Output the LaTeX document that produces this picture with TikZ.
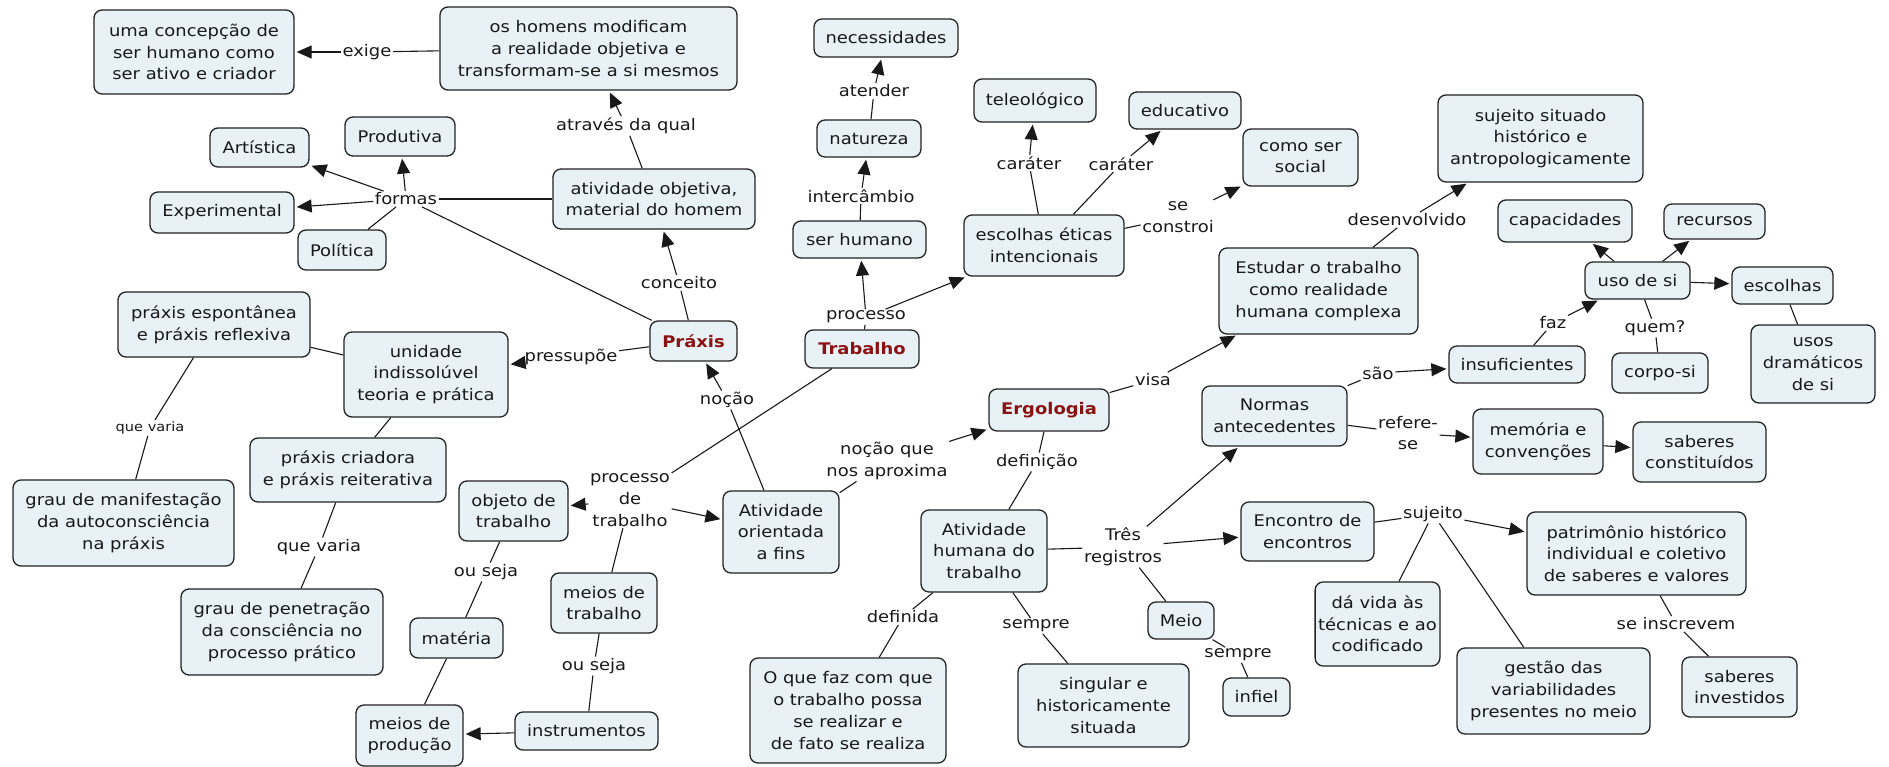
\documentclass[tikz,border=0pt]{standalone}
\usepackage{fontspec}
\setmainfont{DejaVu Sans}[FakeStretch=1.12]
\usetikzlibrary{arrows.meta}
\definecolor{boxfill}{RGB}{232,241,245}
\definecolor{boxline}{RGB}{35,35,35}
\definecolor{mainred}{RGB}{139,18,18}
\definecolor{txt}{RGB}{25,25,25}
\begin{document}
\begin{tikzpicture}[x=1pt,y=-1pt,
 cn/.style={draw=boxline, fill=boxfill, rounded corners=8pt, line width=1.3pt, align=center, inner sep=3pt, font=\fontsize{16}{21.7}\selectfont, text=txt},
 mainc/.style={cn, font=\fontsize{16}{21.7}\selectfont\bfseries, text=mainred},
 lb/.style={align=center, inner sep=1.5pt, font=\fontsize{16}{21.7}\selectfont, text=txt},
 lbs/.style={lb, font=\fontsize{13}{17}\selectfont},
 ln/.style={line width=1.1pt, draw=black!90},
 ar/.style={ln, -{Triangle[length=15pt,width=13pt]}, shorten >=2pt},
]
\fill[white] (0,0) rectangle (1889,767);
\useasboundingbox (0,0) rectangle (1889,767);

% concepts
\node[cn, minimum width=200, minimum height=84] (conc) at (194,52) {uma concepção de\\ser humano como\\ser ativo e criador};
\node[cn, minimum width=297, minimum height=83] (homens) at (588.5,48.5) {os homens modificam\\a realidade objetiva e\\transformam-se a si mesmos};
\node[cn, minimum width=110, minimum height=39] (prod) at (400,136.5) {Produtiva};
\node[cn, minimum width=99, minimum height=39] (art) at (259.5,147.5) {Artística};
\node[cn, minimum width=144, minimum height=41] (exper) at (222,212.5) {Experimental};
\node[cn, minimum width=88, minimum height=40] (polit) at (342,250) {Política};
\node[cn, minimum width=202, minimum height=60] (ativobj) at (654,199) {atividade objetiva,\\material do homem};
\node[mainc, minimum width=87, minimum height=40] (praxis) at (693.5,341) {Práxis};
\node[cn, minimum width=164, minimum height=85] (unid) at (426,374.5) {unidade\\indissolúvel\\teoria e prática};
\node[cn, minimum width=192, minimum height=65] (espont) at (214,324.5) {práxis espontânea\\e práxis reflexiva};
\node[cn, minimum width=221, minimum height=86] (graumanif) at (123.5,523) {grau de manifestação\\da autoconsciência\\na práxis};
\node[cn, minimum width=196, minimum height=64] (criad) at (348,470) {práxis criadora\\e práxis reiterativa};
\node[cn, minimum width=202, minimum height=86] (graupen) at (282,632) {grau de penetração\\da consciência no\\processo prático};
\node[cn, minimum width=109, minimum height=60] (objeto) at (513.5,511) {objeto de\\trabalho};
\node[cn, minimum width=116, minimum height=82] (ativfins) at (781,532) {Atividade\\orientada\\a fins};
\node[cn, minimum width=93, minimum height=40] (materia) at (456.5,638) {matéria};
\node[cn, minimum width=106, minimum height=60] (meiostrab) at (604,603) {meios de\\trabalho};
\node[cn, minimum width=143, minimum height=38] (instr) at (586.5,731) {instrumentos};
\node[cn, minimum width=107, minimum height=61] (meiosprod) at (409.5,735.5) {meios de\\produção};
\node[cn, minimum width=196, minimum height=105] (oque) at (848,710.5) {O que faz com que\\o trabalho possa\\se realizar e\\de fato se realiza};
\node[cn, minimum width=144, minimum height=38] (necess) at (886,38) {necessidades};
\node[cn, minimum width=104, minimum height=37] (natur) at (869,138.5) {natureza};
\node[cn, minimum width=133, minimum height=37] (serhum) at (859.5,239.5) {ser humano};
\node[mainc, minimum width=114, minimum height=38] (trab) at (862,349) {Trabalho};
\node[cn, minimum width=122, minimum height=43] (teleo) at (1035,100.5) {teleológico};
\node[cn, minimum width=112, minimum height=37] (educ) at (1185,110.5) {educativo};
\node[cn, minimum width=160, minimum height=61] (escol) at (1044,245.5) {escolhas éticas\\intencionais};
\node[cn, minimum width=115, minimum height=57] (social) at (1300.5,157.5) {como ser\\social};
\node[cn, minimum width=199, minimum height=86] (estudar) at (1318.5,291) {Estudar o trabalho\\como realidade\\humana complexa};
\node[cn, minimum width=205, minimum height=87] (sujsit) at (1540.5,138.5) {sujeito situado\\histórico e\\antropologicamente};
\node[cn, minimum width=134, minimum height=42] (capac) at (1565,221) {capacidades};
\node[cn, minimum width=101, minimum height=35] (recurs) at (1714.5,221.5) {recursos};
\node[cn, minimum width=105, minimum height=37] (usodesi) at (1637.5,280.5) {uso de si};
\node[cn, minimum width=101, minimum height=37] (escolhas2) at (1782.5,285.5) {escolhas};
\node[cn, minimum width=124, minimum height=78] (usosdram) at (1813,364) {usos\\dramáticos\\de si};
\node[cn, minimum width=96, minimum height=40] (corposi) at (1660,373) {corpo-si};
\node[cn, minimum width=136, minimum height=37] (insuf) at (1517,364.5) {insuficientes};
\node[mainc, minimum width=120, minimum height=42] (ergo) at (1049,410) {Ergologia};
\node[cn, minimum width=145, minimum height=60] (normas) at (1274.5,416) {Normas\\antecedentes};
\node[cn, minimum width=130, minimum height=65] (memoria) at (1538,441.5) {memória e\\convenções};
\node[cn, minimum width=133, minimum height=60] (sabconst) at (1699.5,452) {saberes\\constituídos};
\node[cn, minimum width=126, minimum height=82] (ativhum) at (984,551) {Atividade\\humana do\\trabalho};
\node[cn, minimum width=171, minimum height=83] (singular) at (1103.5,705.5) {singular e\\historicamente\\situada};
\node[cn, minimum width=66, minimum height=37] (meio) at (1181,620.5) {Meio};
\node[cn, minimum width=67, minimum height=38] (infiel) at (1256.5,697) {infiel};
\node[cn, minimum width=133, minimum height=59] (encontro) at (1307.5,531.5) {Encontro de\\encontros};
\node[cn, minimum width=219, minimum height=83] (patrim) at (1636.5,553.5) {patrimônio histórico\\individual e coletivo\\de saberes e valores};
\node[cn, minimum width=117, minimum height=84] (davida) at (1377.5,624) {dá vida às\\técnicas e ao\\codificado};
\node[cn, minimum width=193, minimum height=86] (gestao) at (1553.5,691) {gestão das\\variabilidades\\presentes no meio};
\node[cn, minimum width=115, minimum height=60] (sabinv) at (1739.5,687) {saberes\\investidos};

% labels
\node[lb] (lExige) at (367,52) {exige};
\node[lb] (lFormas) at (406,199) {formas};
\node[lb] (lAtraves) at (626,126) {através da qual};
\node[lb] (lConceito) at (679,283) {conceito};
\node[lb] (lPress) at (571,357) {pressupõe};
\node[lbs] (lVaria1) at (150,428) {que varia};
\node[lb] (lVaria2) at (319,547) {que varia};
\node[lb] (lProcTrab) at (630,500) {processo\\de\\trabalho};
\node[lb] (lNocao) at (727,400) {noção};
\node[lb] (lOuSeja1) at (486,572) {ou seja};
\node[lb] (lOuSeja2) at (594,666) {ou seja};
\node[lb] (lAtender) at (874,91) {atender};
\node[lb] (lInter) at (861,196) {intercâmbio};
\node[lb] (lProc) at (866,317) {processo};
\node[lb] (lCar1) at (1029,163) {caráter};
\node[lb] (lCar2) at (1121,164) {caráter};
\node[lb] (lConstroi) at (1178,217) {se\\constroi};
\node[lb] (lDesenv) at (1407,220) {desenvolvido};
\node[lb] (lVisa) at (1153,380) {visa};
\node[lb] (lSao) at (1378,373) {são};
\node[lb] (lRefere) at (1408,433) {refere-\\se};
\node[lb] (lFaz) at (1553,323) {faz};
\node[lb] (lQuem) at (1655,328) {quem?};
\node[lb] (lAprox) at (887,461) {noção que\\nos aproxima};
\node[lb] (lDef) at (1037,462) {definição};
\node[lb] (lTres) at (1123,547) {Três\\registros};
\node[lb] (lDefinida) at (903,617) {definida};
\node[lb] (lSempre) at (1036,626) {sempre};
\node[lb] (lSempre2) at (1238,655) {sempre};
\node[lb] (lSujeito) at (1433,514) {sujeito};
\node[lb] (lInscrevem) at (1676,624) {se inscrevem};

% connectors
\draw[ln] (homens) -- (lExige); \draw[ar] (lExige) -- (conc);
\draw[ln] (ativobj) -- (lAtraves); \draw[ar] (lAtraves) -- (homens);
\draw[ln] (praxis) -- (lConceito); \draw[ar] (lConceito) -- (ativobj);
\draw[ln] (ativobj) -- (lFormas);
\draw[ar] (lFormas) -- (prod);
\draw[ar] (lFormas) -- (art);
\draw[ar] (lFormas) -- (exper);
\draw[ln] (lFormas) -- (polit);
\draw[ln] (lFormas) -- (praxis);
\draw[ln] (praxis) -- (lPress); \draw[ar] (lPress) -- (unid);
\draw[ln] (unid) -- (espont);
\draw[ln] (espont) -- (lVaria1); \draw[ln] (lVaria1) -- (graumanif);
\draw[ln] (unid) -- (criad);
\draw[ln] (criad) -- (lVaria2); \draw[ln] (lVaria2) -- (graupen);
\draw[ln] (trab) -- (lProcTrab);
\draw[ar] (lProcTrab) -- (objeto);
\draw[ar] (lProcTrab) -- (ativfins);
\draw[ln] (lProcTrab) -- (meiostrab);
\draw[ln] (objeto) -- (lOuSeja1); \draw[ln] (lOuSeja1) -- (materia);
\draw[ln] (materia) -- (meiosprod);
\draw[ln] (meiostrab) -- (lOuSeja2); \draw[ln] (lOuSeja2) -- (instr);
\draw[ar] (instr) -- (meiosprod);
\draw[ln] (ativfins) -- (lNocao); \draw[ar] (lNocao) -- (praxis);
\draw[ln] (ativfins) -- (lAprox); \draw[ar] (lAprox) -- (ergo);
\draw[ln] (trab) -- (lProc);
\draw[ar] (lProc) -- (serhum);
\draw[ar] (lProc) -- (escol);
\draw[ln] (serhum) -- (lInter); \draw[ar] (lInter) -- (natur);
\draw[ln] (natur) -- (lAtender); \draw[ar] (lAtender) -- (necess);
\draw[ln] (escol) -- (lCar1); \draw[ar] (lCar1) -- (teleo);
\draw[ln] (escol) -- (lCar2); \draw[ar] (lCar2) -- (educ);
\draw[ln] (escol) -- (lConstroi); \draw[ar] (lConstroi) -- (social);
\draw[ln] (ergo) -- (lVisa); \draw[ar] (lVisa) -- (estudar);
\draw[ln] (estudar) -- (lDesenv); \draw[ar] (lDesenv) -- (sujsit);
\draw[ln] (ergo) -- (lDef); \draw[ln] (lDef) -- (ativhum);
\draw[ln] (ativhum) -- (lDefinida); \draw[ln] (lDefinida) -- (oque);
\draw[ln] (ativhum) -- (lSempre); \draw[ln] (lSempre) -- (singular);
\draw[ln] (ativhum) -- (lTres);
\draw[ar] (lTres) -- (normas);
\draw[ar] (lTres) -- (encontro);
\draw[ln] (lTres) -- (meio);
\draw[ln] (meio) -- (lSempre2); \draw[ln] (lSempre2) -- (infiel);
\draw[ln] (normas) -- (lSao); \draw[ar] (lSao) -- (insuf);
\draw[ln] (insuf) -- (lFaz); \draw[ar] (lFaz) -- (usodesi);
\draw[ar] (usodesi) -- (capac);
\draw[ar] (usodesi) -- (recurs);
\draw[ar] (usodesi) -- (escolhas2);
\draw[ln] (usodesi) -- (lQuem); \draw[ln] (lQuem) -- (corposi);
\draw[ln] (escolhas2) -- (usosdram);
\draw[ln] (normas) -- (lRefere); \draw[ar] (lRefere) -- (memoria);
\draw[ar] (memoria) -- (sabconst);
\draw[ln] (encontro) -- (lSujeito);
\draw[ar] (lSujeito) -- (patrim);
\draw[ln] (lSujeito) -- (davida);
\draw[ln] (lSujeito) -- (gestao);
\draw[ln] (patrim) -- (lInscrevem); \draw[ln] (lInscrevem) -- (sabinv);
\end{tikzpicture}
\end{document}
